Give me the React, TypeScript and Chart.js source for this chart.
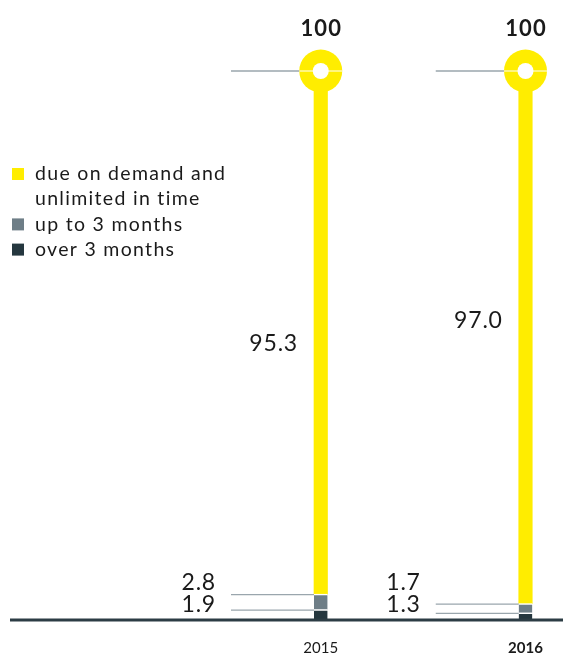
import { useEffect, useRef } from "react";
import { Chart, registerables } from "chart.js";

Chart.register(...registerables);

// Maturity structure of deposits, in % of total
const YEARS = ["2015", "2016"];
const OVER_3_MONTHS = [1.9, 1.3];
const UP_TO_3_MONTHS = [2.8, 1.7];
const DUE_ON_DEMAND = [95.3, 97.0];
const TOTALS = [100, 100];
const SERIES_NAMES = ["over 3 months", "up to 3 months", "due on demand and unlimited in time"];
// value at which the large segment label sits, per year
const MAIN_LABEL_AT = [50.4, 54.6];

const FONT = "Lato, 'DejaVu Sans', sans-serif";
const YELLOW = "#FFED00";
const GREY = "#6E7E87";
const DARK = "#25373F";
const LEADER = "#9AA6AD";
const AXIS = "#2C3C44";
const TEXT = "#1A1A1A";

function wrapWords(ctx: CanvasRenderingContext2D, text: string, maxWidth: number): string[] {
  const words = text.split(" ");
  const lines: string[] = [];
  let cur = "";
  for (const w of words) {
    const next = cur ? cur + " " + w : w;
    if (cur && ctx.measureText(next).width > maxWidth) {
      lines.push(cur);
      cur = w;
    } else {
      cur = next;
    }
  }
  if (cur) lines.push(cur);
  return lines;
}

const overlayPlugin = {
  id: "overlay",
  afterDatasetsDraw(chart: any) {
    const ctx: CanvasRenderingContext2D = chart.ctx;
    const yScale = chart.scales.y;
    const base = yScale.getPixelForValue(0);
    ctx.save();

    // baseline
    ctx.fillStyle = AXIS;
    ctx.fillRect(10, base - 1.5, chart.width - 10, 3);

    const hline = (x1: number, x2: number, y: number, color: string, w: number) => {
      ctx.strokeStyle = color;
      ctx.lineWidth = w;
      ctx.beginPath();
      ctx.moveTo(x1, y);
      ctx.lineTo(x2, y);
      ctx.stroke();
    };

    const R = 21.5;
    const HOLE = 8;

    YEARS.forEach((_, i) => {
      const low = chart.getDatasetMeta(0).data[i];
      const mid = chart.getDatasetMeta(1).data[i];
      const top = chart.getDatasetMeta(2).data[i];
      const x = low.x;
      const left = x - low.width / 2;
      const lineStart = left - 83;

      // leader lines at the top of the two small segments
      hline(lineStart, left, low.y + 0.5, LEADER, 1.3);
      hline(lineStart, left, mid.y + 0.5, LEADER, 1.3);

      // ring marking the total
      const ty = top.y;
      hline(lineStart, x - R + 2, ty, LEADER, 1.3);
      ctx.fillStyle = YELLOW;
      ctx.beginPath();
      ctx.arc(x, ty, R, 0, Math.PI * 2);
      ctx.fill();
      ctx.fillStyle = "#FFFFFF";
      ctx.beginPath();
      ctx.arc(x, ty, HOLE, 0, Math.PI * 2);
      ctx.fill();
      hline(x - R, x + R, ty, "#FFFFFF", 1);

      ctx.fillStyle = TEXT;

      // total
      (ctx as any).letterSpacing = "1px";
      ctx.font = `bold 22px ${FONT}`;
      ctx.textAlign = "center";
      ctx.textBaseline = "middle";
      ctx.fillText(String(TOTALS[i]), x + 0.5, ty - 42);

      // small segment values
      (ctx as any).letterSpacing = "0.8px";
      ctx.font = `23px ${FONT}`;
      ctx.textAlign = "right";
      ctx.fillText(UP_TO_3_MONTHS[i].toFixed(1), left - 98, base - 37.5);
      ctx.fillText(OVER_3_MONTHS[i].toFixed(1), left - 98, base - 15);

      // main segment value
      ctx.fillText(DUE_ON_DEMAND[i].toFixed(1), left - 16, yScale.getPixelForValue(MAIN_LABEL_AT[i]));
    });

    // legend, top series first
    ctx.font = `19.5px ${FONT}`;
    (ctx as any).letterSpacing = "1.3px";
    ctx.textAlign = "left";
    ctx.textBaseline = "middle";
    let ly = 174;
    const step = 25.2;
    const sets = chart.data.datasets.slice().reverse();
    sets.forEach((ds: any) => {
      ctx.fillStyle = ds.backgroundColor;
      ctx.fillRect(12, ly - 6, 12, 12);
      ctx.fillStyle = TEXT;
      const lines = wrapWords(ctx, ds.label, 215);
      lines.forEach((ln) => {
        ctx.fillText(ln, 35, ly);
        ly += step;
      });
    });

    ctx.restore();
  },
};

export default function App() {
  const canvasRef = useRef<HTMLCanvasElement | null>(null);

  useEffect(() => {
    const canvas = canvasRef.current;
    if (!canvas) return;
    const segBorder = { top: 1.5, right: 0, bottom: 0, left: 0 };
    const chart = new Chart(canvas, {
      type: "bar",
      data: {
        labels: YEARS,
        datasets: [
          { label: SERIES_NAMES[0], data: OVER_3_MONTHS, backgroundColor: DARK, borderColor: "#FFFFFF", borderWidth: segBorder, clip: false } as any,
          { label: SERIES_NAMES[1], data: UP_TO_3_MONTHS, backgroundColor: GREY, borderColor: "#FFFFFF", borderWidth: segBorder, clip: false } as any,
          { label: SERIES_NAMES[2], data: DUE_ON_DEMAND, backgroundColor: YELLOW, borderWidth: 0, clip: false } as any,
        ],
      },
      options: {
        animation: false,
        responsive: false,
        devicePixelRatio: 1,
        layout: { padding: { left: 320.75, right: 37.5, top: 71, bottom: 0 } },
        plugins: { legend: { display: false }, tooltip: { enabled: false } },
        datasets: { bar: { barThickness: 13.5, borderSkipped: false } as any },
        scales: {
          x: {
            stacked: true,
            offset: false,
            grid: { display: false, drawTicks: false },
            border: { display: false },
            ticks: {
              autoSkip: false,
              maxRotation: 0,
              padding: 19,
              color: TEXT,
              font: (c: any) => ({ family: FONT, size: 15, weight: c.index === 1 ? "bold" : "normal" }),
            },
            afterFit: (s: any) => {
              s.height = 35;
            },
          },
          y: { stacked: true, display: false, min: 0, max: 100 },
        },
      },
      plugins: [overlayPlugin],
    });
    return () => chart.destroy();
  }, []);

  return (
    <div style={{ position: "absolute", left: 0, top: 0, width: 563, height: 655, background: "#FFFFFF" }}>
      <canvas ref={canvasRef} width={563} height={655} style={{ display: "block" }} />
    </div>
  );
}
